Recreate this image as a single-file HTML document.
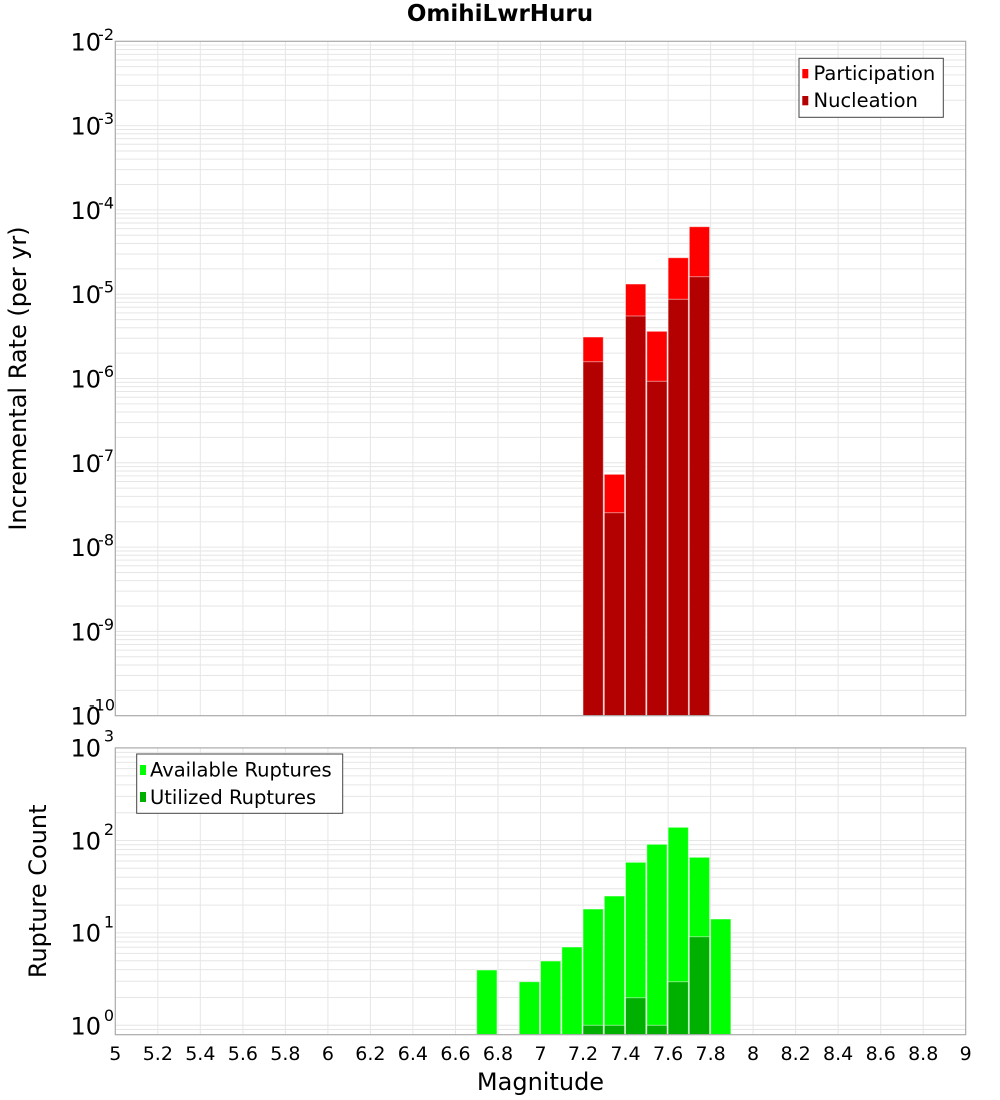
<!DOCTYPE html>
<html><head><meta charset="utf-8"><style>
html,body{margin:0;padding:0;background:#fff;}
svg{display:block;}
text{font-family:"DejaVu Sans","Liberation Sans",sans-serif;fill:#000;}
</style></head><body>
<svg width="1000" height="1100" viewBox="0 0 1000 1100" xmlns="http://www.w3.org/2000/svg">
<rect x="0" y="0" width="1000" height="1100" fill="#fff"/>
<text x="500" y="21" font-size="23" font-weight="bold" text-anchor="middle">OmihiLwrHuru</text>

<!-- TOP PLOT -->
<rect x="115.3" y="41.3" width="850.4" height="674.4" fill="#fff"/>
<g stroke="#e6e6e6" stroke-width="1" fill="none">
<path d="M115.3 690.32H965.7M115.3 675.48H965.7M115.3 664.95H965.7M115.3 656.78H965.7M115.3 650.1H965.7M115.3 644.46H965.7M115.3 639.57H965.7M115.3 635.26H965.7
M115.3 631.4H965.7M115.3 606.02H965.7M115.3 591.18H965.7M115.3 580.65H965.7M115.3 572.48H965.7M115.3 565.8H965.7M115.3 560.16H965.7M115.3 555.27H965.7M115.3 550.96H965.7
M115.3 547.1H965.7M115.3 521.72H965.7M115.3 506.88H965.7M115.3 496.35H965.7M115.3 488.18H965.7M115.3 481.5H965.7M115.3 475.86H965.7M115.3 470.97H965.7M115.3 466.66H965.7
M115.3 462.8H965.7M115.3 437.42H965.7M115.3 422.58H965.7M115.3 412.05H965.7M115.3 403.88H965.7M115.3 397.2H965.7M115.3 391.56H965.7M115.3 386.67H965.7M115.3 382.36H965.7
M115.3 378.5H965.7M115.3 353.12H965.7M115.3 338.28H965.7M115.3 327.75H965.7M115.3 319.58H965.7M115.3 312.9H965.7M115.3 307.26H965.7M115.3 302.37H965.7M115.3 298.06H965.7
M115.3 294.2H965.7M115.3 268.82H965.7M115.3 253.98H965.7M115.3 243.45H965.7M115.3 235.28H965.7M115.3 228.6H965.7M115.3 222.96H965.7M115.3 218.07H965.7M115.3 213.76H965.7
M115.3 209.9H965.7M115.3 184.52H965.7M115.3 169.68H965.7M115.3 159.15H965.7M115.3 150.98H965.7M115.3 144.3H965.7M115.3 138.66H965.7M115.3 133.77H965.7M115.3 129.46H965.7
M115.3 125.6H965.7M115.3 100.22H965.7M115.3 85.38H965.7M115.3 74.85H965.7M115.3 66.68H965.7M115.3 60H965.7M115.3 54.36H965.7M115.3 49.47H965.7M115.3 45.16H965.7"/>
<path d="M157.8 41.3V715.7M200.3 41.3V715.7M242.9 41.3V715.7M285.4 41.3V715.7M327.9 41.3V715.7M370.4 41.3V715.7M412.9 41.3V715.7M455.5 41.3V715.7M498 41.3V715.7M540.5 41.3V715.7M583 41.3V715.7M625.5 41.3V715.7M668.1 41.3V715.7M710.6 41.3V715.7M753.1 41.3V715.7M795.6 41.3V715.7M838.1 41.3V715.7M880.7 41.3V715.7M923.2 41.3V715.7"/>
</g>
<g stroke="#ffffff" stroke-opacity="0.5" stroke-width="1">
<rect x="583" y="337" width="20.3" height="378.7" fill="#ff0000"/>
<rect x="604.3" y="474.3" width="20.3" height="241.4" fill="#ff0000"/>
<rect x="625.5" y="284" width="20.3" height="431.7" fill="#ff0000"/>
<rect x="646.8" y="331.3" width="20.3" height="384.4" fill="#ff0000"/>
<rect x="668.1" y="257.7" width="20.3" height="458" fill="#ff0000"/>
<rect x="689.3" y="226.7" width="20.3" height="489" fill="#ff0000"/>
<rect x="583" y="361.7" width="20.3" height="354" fill="#b30000"/>
<rect x="604.3" y="512.7" width="20.3" height="203" fill="#b30000"/>
<rect x="625.5" y="316" width="20.3" height="399.7" fill="#b30000"/>
<rect x="646.8" y="381.3" width="20.3" height="334.4" fill="#b30000"/>
<rect x="668.1" y="299.3" width="20.3" height="416.4" fill="#b30000"/>
<rect x="689.3" y="276.7" width="20.3" height="439" fill="#b30000"/>
</g>
<rect x="115.3" y="41.3" width="850.4" height="674.4" fill="none" stroke="#aaaaaa" stroke-width="1.2"/>

<!-- top legend -->
<rect x="799" y="58.3" width="144.3" height="59" fill="#fff" stroke="#444" stroke-width="1"/>
<rect x="802.3" y="69" width="6" height="9.3" fill="#ff0000"/>
<rect x="802.3" y="96" width="6" height="9.3" fill="#b30000"/>
<text x="813.5" y="80" font-size="19.5">Participation</text>
<text x="813.5" y="107" font-size="19.5">Nucleation</text>

<!-- top y ticks -->
<g font-size="24" text-anchor="end">
<text x="101" y="50.3">10</text>
<text x="101" y="134.6">10</text>
<text x="101" y="218.9">10</text>
<text x="101" y="303.2">10</text>
<text x="101" y="387.5">10</text>
<text x="101" y="471.8">10</text>
<text x="101" y="556.1">10</text>
<text x="101" y="640.4">10</text>
<text x="101" y="724.7">10</text>
</g>
<g font-size="16" text-anchor="end">
<text x="114" y="39.8">-2</text>
<text x="114" y="124">-3</text>
<text x="114" y="208.3">-4</text>
<text x="114" y="292.6">-5</text>
<text x="114" y="376.9">-6</text>
<text x="114" y="461.2">-7</text>
<text x="114" y="545.5">-8</text>
<text x="114" y="629.8">-9</text>
<text x="115" y="710.7">-10</text>
</g>
<text transform="translate(26,378.5) rotate(-90)" font-size="24" text-anchor="middle">Incremental Rate (per yr)</text>

<!-- BOTTOM PLOT -->
<rect x="115.3" y="747.9" width="850.4" height="286.8" fill="#fff"/>
<g stroke="#e6e6e6" stroke-width="1" fill="none">
<path d="M115.3 1029.53H965.7M115.3 1025.3H965.7M115.3 997.49H965.7M115.3 981.21H965.7M115.3 969.67H965.7M115.3 960.71H965.7M115.3 953.4H965.7M115.3 947.21H965.7M115.3 941.85H965.7M115.3 937.13H965.7
M115.3 932.9H965.7M115.3 905.09H965.7M115.3 888.81H965.7M115.3 877.27H965.7M115.3 868.31H965.7M115.3 861H965.7M115.3 854.81H965.7M115.3 849.45H965.7M115.3 844.73H965.7
M115.3 840.5H965.7M115.3 812.69H965.7M115.3 796.41H965.7M115.3 784.87H965.7M115.3 775.91H965.7M115.3 768.6H965.7M115.3 762.41H965.7M115.3 757.05H965.7M115.3 752.33H965.7"/>
<path d="M157.8 747.9V1034.7M200.3 747.9V1034.7M242.9 747.9V1034.7M285.4 747.9V1034.7M327.9 747.9V1034.7M370.4 747.9V1034.7M412.9 747.9V1034.7M455.5 747.9V1034.7M498 747.9V1034.7M540.5 747.9V1034.7M583 747.9V1034.7M625.5 747.9V1034.7M668.1 747.9V1034.7M710.6 747.9V1034.7M753.1 747.9V1034.7M795.6 747.9V1034.7M838.1 747.9V1034.7M880.7 747.9V1034.7M923.2 747.9V1034.7"/>
</g>
<g stroke="#ffffff" stroke-opacity="0.5" stroke-width="1">
<rect x="476.7" y="970" width="20.3" height="64.7" fill="#00ff00"/>
<rect x="519.2" y="981.7" width="20.3" height="53" fill="#00ff00"/>
<rect x="540.5" y="961" width="20.3" height="73.7" fill="#00ff00"/>
<rect x="561.8" y="947" width="20.3" height="87.7" fill="#00ff00"/>
<rect x="583" y="909" width="20.3" height="125.7" fill="#00ff00"/>
<rect x="604.3" y="896" width="20.3" height="138.7" fill="#00ff00"/>
<rect x="625.5" y="862.3" width="20.3" height="172.4" fill="#00ff00"/>
<rect x="646.8" y="844.3" width="20.3" height="190.4" fill="#00ff00"/>
<rect x="668.1" y="827.3" width="20.3" height="207.4" fill="#00ff00"/>
<rect x="689.3" y="857.3" width="20.3" height="177.4" fill="#00ff00"/>
<rect x="710.6" y="919" width="20.3" height="115.7" fill="#00ff00"/>
<rect x="583" y="1025.3" width="20.3" height="9.4" fill="#00b000"/>
<rect x="604.3" y="1025.3" width="20.3" height="9.4" fill="#00b000"/>
<rect x="625.5" y="997.7" width="20.3" height="37" fill="#00b000"/>
<rect x="646.8" y="1025.3" width="20.3" height="9.4" fill="#00b000"/>
<rect x="668.1" y="981.7" width="20.3" height="53" fill="#00b000"/>
<rect x="689.3" y="936.7" width="20.3" height="98" fill="#00b000"/>
</g>
<rect x="115.3" y="747.9" width="850.4" height="286.8" fill="none" stroke="#aaaaaa" stroke-width="1.2"/>

<!-- bottom legend -->
<rect x="136.7" y="754" width="206" height="59.3" fill="#fff" stroke="#444" stroke-width="1"/>
<rect x="140" y="765" width="6" height="10" fill="#00ff00"/>
<rect x="140" y="792" width="6" height="10" fill="#00b000"/>
<text x="150" y="776.7" font-size="19.5">Available Ruptures</text>
<text x="150" y="804" font-size="19.5">Utilized Ruptures</text>

<!-- bottom y ticks -->
<g font-size="24" text-anchor="end">
<text x="101" y="756.5">10</text>
<text x="101" y="849.3">10</text>
<text x="101" y="941.7">10</text>
<text x="101" y="1034.5">10</text>
</g>
<g font-size="16" text-anchor="end">
<text x="114" y="741.7">3</text>
<text x="114" y="835">2</text>
<text x="114" y="927.5">1</text>
<text x="114" y="1021">0</text>
</g>
<text transform="translate(46,891.3) rotate(-90)" font-size="24" text-anchor="middle">Rupture Count</text>

<!-- x ticks -->
<g font-size="19" text-anchor="middle">
<text x="115.3" y="1060">5</text>
<text x="157.8" y="1060">5.2</text>
<text x="200.3" y="1060">5.4</text>
<text x="242.9" y="1060">5.6</text>
<text x="285.4" y="1060">5.8</text>
<text x="327.9" y="1060">6</text>
<text x="370.4" y="1060">6.2</text>
<text x="412.9" y="1060">6.4</text>
<text x="455.5" y="1060">6.6</text>
<text x="498" y="1060">6.8</text>
<text x="540.5" y="1060">7</text>
<text x="583" y="1060">7.2</text>
<text x="625.5" y="1060">7.4</text>
<text x="668.1" y="1060">7.6</text>
<text x="710.6" y="1060">7.8</text>
<text x="753.1" y="1060">8</text>
<text x="795.6" y="1060">8.2</text>
<text x="838.1" y="1060">8.4</text>
<text x="880.7" y="1060">8.6</text>
<text x="923.2" y="1060">8.8</text>
<text x="965.7" y="1060">9</text>
</g>
<text x="540.5" y="1090" font-size="24" text-anchor="middle">Magnitude</text>
</svg>
</body></html>
